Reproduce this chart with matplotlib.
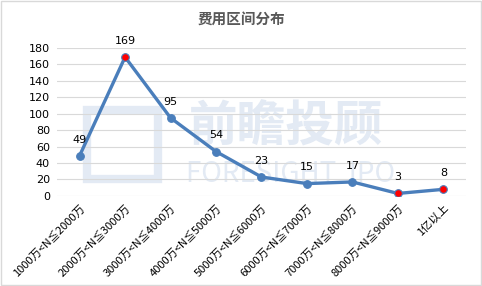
import matplotlib
matplotlib.use("Agg")
import matplotlib.pyplot as plt
from matplotlib.patches import Rectangle

plt.rcParams['font.family'] = ['Noto Sans CJK SC', 'DejaVu Sans']

categories = ['1000万<N≦2000万', '2000万<N≦3000万', '3000万<N≦4000万',
              '4000万<N≦5000万', '5000万<N≦6000万', '6000万<N≦7000万',
              '7000万<N≦8000万', '8000万<N≦9000万', '1亿以上']
values = [49, 169, 95, 54, 23, 15, 17, 3, 8]
highlight = [False, True, False, False, False, False, False, True, True]
yticks = [0, 20, 40, 60, 80, 100, 120, 140, 160, 180]


def main():
    fig = plt.figure(figsize=(4.82, 2.86), dpi=100)
    ax = fig.add_axes([0.118, 0.315, 0.849, 0.517])
    ax.set_zorder(1)

    # faint watermark behind the plot
    wm = '#e3eaf4'
    fig.text(0.593, 0.555, '前瞻投顾', fontsize=35, color=wm,
             ha='center', va='center', fontweight='bold', zorder=-1)
    fig.text(0.602, 0.39, 'FORESIGHT  IPO', fontsize=20, color=wm,
             ha='center', va='center', zorder=-1)
    fig.patches.append(Rectangle((0.18, 0.375), 0.148, 0.24, transform=fig.transFigure,
                                 fill=False, edgecolor=wm, linewidth=6, zorder=-1))

    x = list(range(len(values)))
    ax.plot(x, values, color='#4a7ebb', linewidth=2.4, zorder=3)
    for i, v in enumerate(values):
        fc = '#ff0000' if highlight[i] else '#4a7ebb'
        ax.plot(i, v, 'o', markersize=5.5, markerfacecolor=fc,
                markeredgecolor='#4a7ebb', markeredgewidth=0.8, zorder=4)
        ax.annotate(str(v), (i, v), xytext=(0, 8), textcoords='offset points',
                    ha='center', va='bottom', fontsize=8, color='#000000',
                    family='DejaVu Sans', zorder=5)

    ax.set_xlim(-0.5, len(values) - 0.5)
    ax.set_ylim(0, 180)
    ax.set_yticks(yticks)
    ax.set_yticklabels([str(t) for t in yticks], family='DejaVu Sans', fontsize=8)
    ax.set_xticks(x)
    ax.set_xticklabels(categories, rotation=45, ha='right', rotation_mode='anchor',
                       fontsize=8)
    ax.tick_params(length=0, pad=5)
    ax.grid(axis='y', color='#d9d9d9', linewidth=0.8)
    ax.set_axisbelow(True)
    for s in ax.spines.values():
        s.set_visible(False)
    ax.set_facecolor('none')

    fig.text(0.5, 0.935, '费用区间分布', ha='center', va='center', fontsize=10.5,
             fontweight='bold', color='#595959')
    fig.patches.append(Rectangle((0.002, 0.003), 0.995, 0.993, transform=fig.transFigure,
                                 fill=False, edgecolor='#d9d9d9', linewidth=1))

    fig.savefig('out.png', dpi=100)


if __name__ == "__main__":
    main()
